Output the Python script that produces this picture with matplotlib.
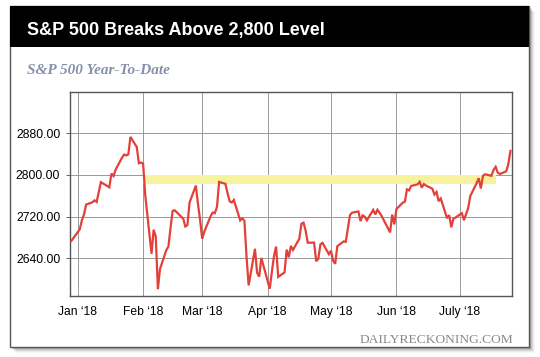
import matplotlib
matplotlib.use("Agg")
import matplotlib.pyplot as plt
import matplotlib.dates as mdates
from matplotlib.patches import Rectangle
import numpy as np
import pandas as pd

# S&P 500 closes
dates = [
    "2017-12-29", "2018-01-02", "2018-01-03", "2018-01-04", "2018-01-05", "2018-01-08", "2018-01-09",
    "2018-01-10", "2018-01-11", "2018-01-12", "2018-01-16", "2018-01-17", "2018-01-18", "2018-01-19",
    "2018-01-22", "2018-01-23", "2018-01-24", "2018-01-25", "2018-01-26", "2018-01-29", "2018-01-30",
    "2018-01-31", "2018-02-01", "2018-02-02", "2018-02-05", "2018-02-06", "2018-02-07", "2018-02-08",
    "2018-02-09", "2018-02-12", "2018-02-13", "2018-02-14", "2018-02-15", "2018-02-16", "2018-02-20",
    "2018-02-21", "2018-02-22", "2018-02-23", "2018-02-26", "2018-02-27", "2018-02-28", "2018-03-01",
    "2018-03-02", "2018-03-05", "2018-03-06", "2018-03-07", "2018-03-08", "2018-03-09", "2018-03-12",
    "2018-03-13", "2018-03-14", "2018-03-15", "2018-03-16", "2018-03-19", "2018-03-20", "2018-03-21",
    "2018-03-22", "2018-03-23", "2018-03-26", "2018-03-27", "2018-03-28", "2018-03-29", "2018-04-02",
    "2018-04-03", "2018-04-04", "2018-04-05", "2018-04-06", "2018-04-09", "2018-04-10", "2018-04-11",
    "2018-04-12", "2018-04-13", "2018-04-16", "2018-04-17", "2018-04-18", "2018-04-19", "2018-04-20",
    "2018-04-23", "2018-04-24", "2018-04-25", "2018-04-26", "2018-04-27", "2018-04-30", "2018-05-01",
    "2018-05-02", "2018-05-03", "2018-05-04", "2018-05-07", "2018-05-08", "2018-05-09", "2018-05-10",
    "2018-05-11", "2018-05-14", "2018-05-15", "2018-05-16", "2018-05-17", "2018-05-18", "2018-05-21",
    "2018-05-22", "2018-05-23", "2018-05-24", "2018-05-25", "2018-05-29", "2018-05-30", "2018-05-31",
    "2018-06-01", "2018-06-04", "2018-06-05", "2018-06-06", "2018-06-07", "2018-06-08", "2018-06-11",
    "2018-06-12", "2018-06-13", "2018-06-14", "2018-06-15", "2018-06-18", "2018-06-19", "2018-06-20",
    "2018-06-21", "2018-06-22", "2018-06-25", "2018-06-26", "2018-06-27", "2018-06-28", "2018-06-29",
    "2018-07-02", "2018-07-03", "2018-07-05", "2018-07-06", "2018-07-09", "2018-07-10", "2018-07-11",
    "2018-07-12", "2018-07-13", "2018-07-16", "2018-07-17", "2018-07-18", "2018-07-19", "2018-07-20",
    "2018-07-23", "2018-07-24", "2018-07-25",
]
closes = [
    2673.6, 2695.8, 2713.1, 2724.0, 2743.2, 2747.7, 2751.3,
    2748.2, 2767.6, 2786.2, 2776.4, 2802.6, 2798.0, 2810.3,
    2833.0, 2839.1, 2837.5, 2839.3, 2872.9, 2853.5, 2822.4,
    2823.8, 2822.0, 2762.1, 2648.9, 2695.1, 2681.7, 2581.0,
    2619.6, 2656.0, 2662.9, 2698.6, 2731.2, 2732.2, 2716.3,
    2701.3, 2704.0, 2747.3, 2779.6, 2744.3, 2713.8, 2677.7,
    2691.3, 2720.9, 2728.1, 2726.8, 2739.0, 2786.6, 2783.0,
    2765.3, 2749.5, 2747.3, 2752.0, 2712.9, 2716.9, 2711.9,
    2643.7, 2588.3, 2658.6, 2612.6, 2605.0, 2640.9, 2581.9,
    2614.5, 2644.7, 2662.8, 2604.5, 2613.2, 2656.9, 2642.2,
    2664.0, 2656.3, 2677.8, 2706.4, 2708.6, 2693.1, 2670.1,
    2670.3, 2634.6, 2639.4, 2666.9, 2669.9, 2648.1, 2654.8,
    2635.7, 2629.7, 2663.4, 2672.6, 2671.9, 2697.8, 2723.1,
    2727.7, 2730.1, 2711.5, 2722.5, 2720.1, 2713.0, 2733.0,
    2724.4, 2733.3, 2727.8, 2721.3, 2689.9, 2724.0, 2705.3,
    2734.6, 2746.9, 2748.8, 2772.4, 2770.4, 2779.0, 2782.0,
    2786.9, 2775.6, 2782.5, 2779.7, 2773.8, 2762.6, 2767.3,
    2749.8, 2754.9, 2717.1, 2723.1, 2699.6, 2716.3, 2718.4,
    2726.7, 2713.2, 2736.6, 2759.8, 2784.2, 2793.8, 2774.0,
    2798.3, 2801.3, 2798.4, 2809.6, 2815.6, 2804.5, 2801.8,
    2807.0, 2820.4, 2846.1,
]
band_low, band_high = 2782, 2799
band_start, band_end = "2018-02-01", "2018-07-18"
yticks = [2640, 2720, 2800, 2880]
month_ticks = ["2018-01-01", "2018-02-01", "2018-03-01", "2018-04-01",
               "2018-05-01", "2018-06-01", "2018-07-01"]
month_labels = ["Jan \u201818", "Feb \u201818", "Mar \u201818", "Apr \u201818",
                "May \u201818", "Jun \u201818", "July \u201818"]

W, H = 540, 357
fig = plt.figure(figsize=(W / 100, H / 100), dpi=100)
fig.patch.set_facecolor("white")

def box(x0, y0, x1, y1, **kw):
    # rectangle in pixel coords (top-left origin)
    r = Rectangle((x0 / W, 1 - y1 / H), (x1 - x0) / W, (y1 - y0) / H,
                  transform=fig.transFigure, **kw)
    fig.patches.append(r)

# drop shadow
for i, a in enumerate([0.14, 0.10, 0.07, 0.05, 0.03]):
    box(12 + i, 8 + i, 531 + i, 349 + i, facecolor="black", edgecolor="none", alpha=a, zorder=0)
box(10, 6, 529, 347, facecolor="white", edgecolor="#555555", linewidth=1, zorder=1)
box(10, 6, 529, 47, facecolor="black", edgecolor="none", zorder=2)

fig.text(27 / W, 1 - 35 / H, "S&P 500 Breaks Above 2,800 Level", color="white",
         fontsize=13, fontweight="bold", family="Liberation Sans", va="baseline", zorder=3)
fig.text(27 / W, 1 - 73.5 / H, "S&P 500 Year-To-Date", color="#8690ab",
         fontsize=11, fontweight="bold", fontstyle="italic", family="Liberation Serif",
         va="baseline", zorder=3)
fig.text(513 / W, 1 - 343 / H, "DAILYRECKONING.COM", color="#8a8a8a",
         fontsize=9.7, family="Liberation Serif", ha="right", va="baseline", zorder=3)

ax = fig.add_axes([70 / W, 1 - 296 / H, (512 - 70) / W, (296 - 92) / H], zorder=4)
ax.set_facecolor("white")

x = pd.to_datetime(dates)
ax.plot(x, closes, color="#e3403a", linewidth=1.6, zorder=3, solid_joinstyle="miter")
ax.fill_between(pd.to_datetime([band_start, band_end]), band_low, band_high,
                color="#f6f29e", linewidth=0, zorder=1)

ax.set_ylim(2568, 2959)
ax.set_xlim(pd.Timestamp("2017-12-28 09:00"), pd.Timestamp("2018-07-25 18:00"))
ax.set_yticks(yticks)
ax.set_yticklabels([f"{v:.2f}" for v in yticks])
ax.set_xticks(pd.to_datetime(month_ticks))
ax.set_xticklabels(month_labels)
ax.grid(True, color="#999999", linewidth=0.7, zorder=0)
ax.set_axisbelow(True)
ax.tick_params(axis="y", length=3, width=0.7, color="#666666", pad=4, labelsize=8.7)
ax.tick_params(axis="x", length=0, pad=7, labelsize=8.7)
for lab in ax.get_xticklabels() + ax.get_yticklabels():
    lab.set_family("Liberation Sans")
for s in ax.spines.values():
    s.set_color("#555555")
    s.set_linewidth(1)

fig.savefig("out.png", dpi=100)
